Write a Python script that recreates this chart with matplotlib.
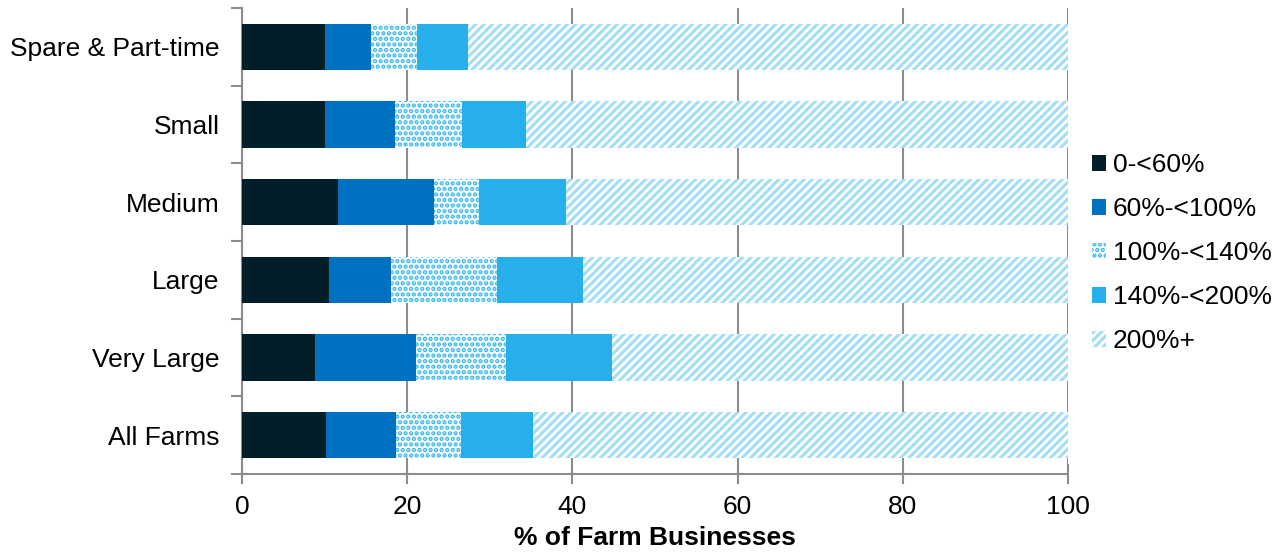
import numpy as np
import matplotlib
matplotlib.use('Agg')
import matplotlib.pyplot as plt
from matplotlib.ticker import FixedLocator

plt.rcParams['font.family'] = ['Liberation Sans', 'DejaVu Sans']
plt.rcParams['hatch.linewidth'] = 2.2

# Data
categories = ['Spare & Part-time', 'Small', 'Medium', 'Large', 'Very Large', 'All Farms']
series = ['0-<60%', '60%-<100%', '100%-<140%', '140%-<200%', '200%+']
values = {
    '0-<60%':      [10.0, 10.0, 11.6, 10.5, 8.8, 10.2],
    '60%-<100%':   [5.6, 8.5, 11.6, 7.5, 12.3, 8.4],
    '100%-<140%':  [5.6, 8.1, 5.5, 12.9, 10.9, 7.9],
    '140%-<200%':  [6.2, 7.8, 10.5, 10.4, 12.8, 8.7],
    '200%+':       [72.6, 65.6, 60.8, 58.7, 55.2, 64.8],
}

# Styles: (facecolor, hatchcolor, hatch)
styles = {
    '0-<60%':     ('#021E28', '#021E28', None),
    '60%-<100%':  ('#0070C0', '#0070C0', None),
    '100%-<140%': ('white', '#36B8EE', '...'),
    '140%-<200%': ('#27AFEC', '#27AFEC', None),
    '200%+':      ('white', '#A3DEF8', '////'),
}

fig = plt.figure(figsize=(12.85, 5.54), dpi=100)
ax = fig.add_axes([0.1883, 0.1444, 0.6428, 0.8412])

y = np.arange(len(categories))
left = np.zeros(len(categories))
for s in series:
    fc, hc, hatch = styles[s]
    ax.barh(y, values[s], left=left, height=0.6, color=fc, edgecolor=hc,
            hatch=hatch, linewidth=0, label=s, zorder=3)
    left += np.array(values[s])

ax.set_ylim(5.5, -0.5)
ax.set_xlim(0, 100)
ax.set_yticks(y)
ax.set_yticklabels(categories, fontsize=19)
ax.yaxis.set_minor_locator(FixedLocator(np.arange(-0.5, 6, 1)))
ax.tick_params(axis='y', which='major', length=0, pad=16)
ax.tick_params(axis='y', which='minor', length=8, width=1.5, color='#8C8C8C', direction='out')
ax.set_xticks([0, 20, 40, 60, 80, 100])
ax.tick_params(axis='x', labelsize=19, length=14, width=1.5, color='#8C8C8C', direction='inout', pad=8)

ax.grid(axis='x', color='#8C8C8C', linewidth=1.5, zorder=0)
for side in ['top', 'right']:
    ax.spines[side].set_visible(False)
for side in ['left', 'bottom']:
    ax.spines[side].set_color('#8C8C8C')
    ax.spines[side].set_linewidth(1.5)

ax.set_xlabel('% of Farm Businesses', fontsize=19, fontweight='bold', labelpad=5)

ax.legend(loc='center left', bbox_to_anchor=(1.016, 0.474), frameon=False, fontsize=19,
          handlelength=0.55, handleheight=0.55, handletextpad=0.25, labelspacing=0.76,
          borderaxespad=0)

fig.savefig('out.png', dpi=100)
